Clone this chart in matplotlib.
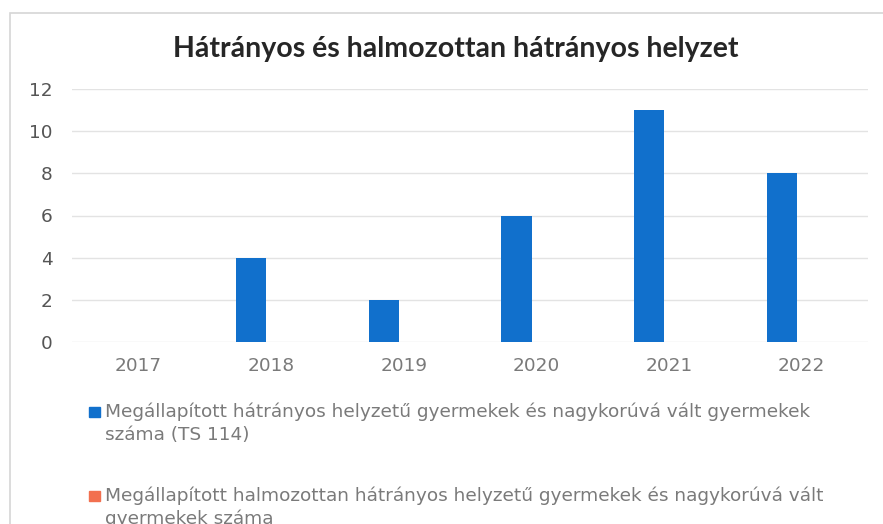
import textwrap
import matplotlib
matplotlib.use("Agg")
import matplotlib.pyplot as plt
from matplotlib.patches import Rectangle

# ---- data ----
years = ["2017", "2018", "2019", "2020", "2021", "2022"]
hh_values = [0, 4, 2, 6, 11, 8]        # hátrányos helyzetű
hhh_values = [0, 0, 0, 0, 0, 0]       # halmozottan hátrányos helyzetű
series_names = [
    "Megállapított hátrányos helyzetű gyermekek és nagykorúvá vált gyermekek száma (TS 114)",
    "Megállapított halmozottan hátrányos helyzetű gyermekek és nagykorúvá vált gyermekek száma",
]
title = "Hátrányos és halmozottan hátrányos helyzet"
yticks = [0, 2, 4, 6, 8, 10, 12]

colors = ["#1170CC", "#F2704F"]
W, H = 883, 524
fig = plt.figure(figsize=(W / 100, H / 100), dpi=100)
fig.patch.set_facecolor("white")

# outer chart frame
fig.patches.append(Rectangle((10 / W, -0.1), 2, 1 - 13 / H + 0.1,
                             transform=fig.transFigure, fill=False,
                             edgecolor="#d6d6d6", linewidth=1.2))

ax = fig.add_axes([72 / W, 1 - 342 / H, (868 - 72) / W, (342 - 89) / H])
x = list(range(len(years)))
bw = 0.23
ax.bar([i - 0.15 for i in x], hh_values, width=bw, color=colors[0], zorder=3)
ax.bar([i + 0.15 for i in x], hhh_values, width=bw, color=colors[1], zorder=3)

ax.set_xlim(-0.5, len(years) - 0.5)
ax.set_ylim(0, 12)
ax.set_yticks(yticks)
ax.set_yticklabels([str(v) for v in yticks])
ax.set_xticks(x)
ax.set_xticklabels(years)
ax.grid(axis="y", color="#e3e3e3", linewidth=1.0, zorder=0)
for s in ax.spines.values():
    s.set_visible(False)
ax.tick_params(axis="both", length=0, labelsize=13.3, colors="#666666")
ax.tick_params(axis="y", pad=14)
ax.tick_params(axis="x", pad=11)
for lab in ax.get_yticklabels():
    lab.set_color("#555555")
for lab in ax.get_xticklabels():
    lab.set_color("#7a7a7a")

fig.text(455.5 / W, 1 - 48.5 / H, title, ha="center", va="center",
         fontsize=20.5, fontweight="bold", color="#262626",
         family=["Lato", "DejaVu Sans"])

# legend (manual, to follow the reference layout)
entry_y = [412, 496]
for name, col, y0 in zip(series_names, colors, entry_y):
    fig.patches.append(Rectangle((89 / W, 1 - (y0 + 5) / H), 11 / W, 10 / H,
                                 transform=fig.transFigure, color=col))
    for k, line in enumerate(textwrap.wrap(name, 73)):
        fig.text(105 / W, 1 - (y0 + 23 * k) / H, line, ha="left", va="center",
                 fontsize=13.3, color="#7a7a7a")

fig.savefig("out.png", dpi=100)
